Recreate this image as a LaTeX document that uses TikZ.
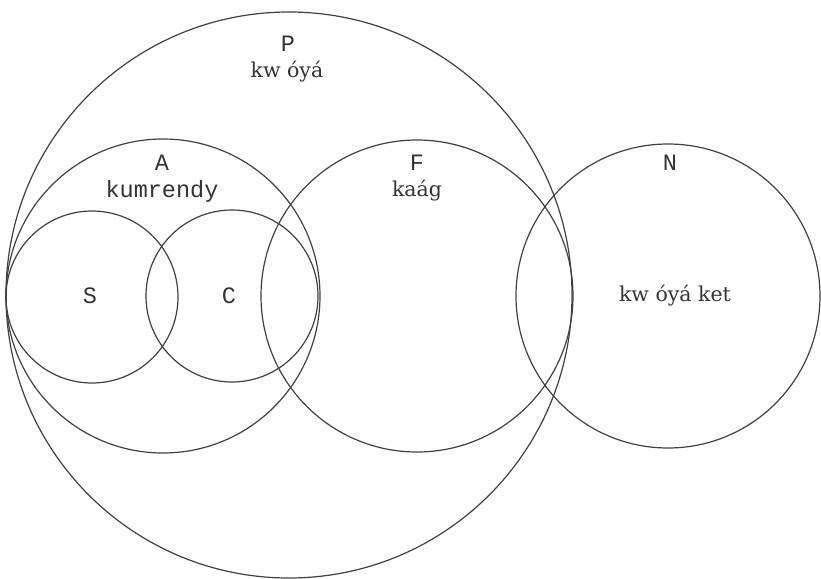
\documentclass[tikz,border=0pt]{standalone}
\usepackage{fontspec}
\setmonofont{Liberation Mono}
\newfontfamily\accentfont{DejaVu Serif}
\begin{document}
\begin{tikzpicture}[x=1pt,y=-1pt,
  ring/.style={draw=black!75,line width=1.2pt},
  lbl/.style={font=\ttfamily\fontsize{23.5}{25}\selectfont,text=black!80,inner sep=0pt},
  albl/.style={font=\accentfont\fontsize{20.5}{22}\selectfont,text=black!80,inner sep=0pt}]
\useasboundingbox (0,0) rectangle (821,578);
% sets as circles
\draw[ring] (289,295) circle[radius=283];
\draw[ring] (163,296) circle[radius=157];
\draw[ring] (92,297) circle[radius=86];
\draw[ring] (232,296) circle[radius=86];
\draw[ring] (417,296) circle[radius=156];
\draw[ring] (668,296) circle[radius=152];
% labels
\node[lbl] (p) at (288,44) {P};
\node[albl] (pt) at (287,72) {kw óyá};
\node[lbl] (a) at (162,163) {A};
\node[lbl] (at) at (162,191) {kumrendy};
\node[lbl] (f) at (417,163) {F};
\node[albl] (ft) at (417,191) {kaág};
\node[lbl] (n) at (670,163) {N};
\node[albl] (nt) at (675,296) {kw óyá ket};
\node[lbl] (s) at (90,296) {S};
\node[lbl] (c) at (229,296) {C};
\end{tikzpicture}
\end{document}
